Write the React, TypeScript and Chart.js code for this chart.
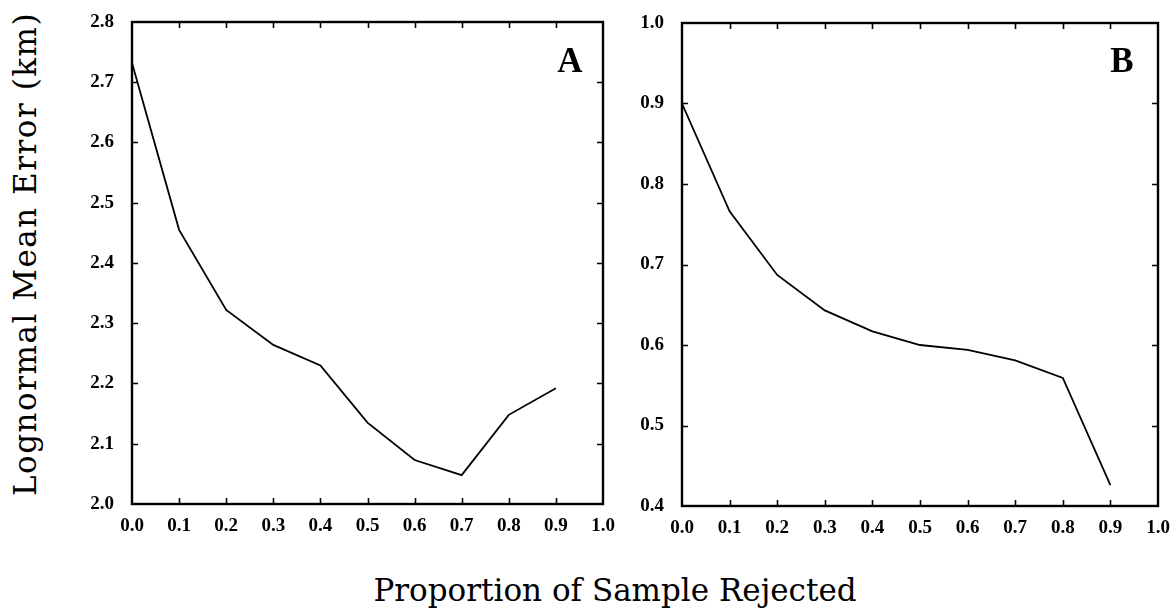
import React, { useEffect, useRef } from "react";
import { Chart, registerables } from "chart.js";

Chart.register(...registerables);

// ---- Data ----
const proportionRejected = [0.0, 0.1, 0.2, 0.3, 0.4, 0.5, 0.6, 0.7, 0.8, 0.9];
const errorA = [2.732, 2.455, 2.322, 2.264, 2.23, 2.135, 2.073, 2.048, 2.148, 2.192];
const errorB = [0.9, 0.766, 0.687, 0.643, 0.617, 0.6, 0.594, 0.581, 0.559, 0.426];

const xTickValues = [0.0, 0.1, 0.2, 0.3, 0.4, 0.5, 0.6, 0.7, 0.8, 0.9, 1.0];
const yTickValuesA = [2.0, 2.1, 2.2, 2.3, 2.4, 2.5, 2.6, 2.7, 2.8];
const yTickValuesB = [0.4, 0.5, 0.6, 0.7, 0.8, 0.9, 1.0];

const xTitle = "Proportion of Sample Rejected";
const yTitle = "Lognormal Mean Error (km)";

const tickFont = { family: "Liberation Serif", size: 19, weight: "bold" as const };

function zeroPadding(scale: any) {
  scale.paddingTop = 0;
  scale.paddingBottom = 0;
  scale.paddingLeft = 0;
  scale.paddingRight = 0;
}

function framePlugin(letter: string, letterDx: number, letterDy: number) {
  return {
    id: "frame" + letter,
    afterDraw(chart: any) {
      const { ctx, chartArea } = chart;
      const { left, right, top, bottom } = chartArea;
      const xs = chart.scales.x;
      const ys = chart.scales.y;
      ctx.save();
      ctx.strokeStyle = "#000";
      ctx.lineWidth = 2.4;
      ctx.strokeRect(left, top, right - left, bottom - top);
      ctx.lineWidth = 1.6;
      const tl = 6;
      ctx.beginPath();
      xs.ticks.forEach((t: any) => {
        if (t.value <= xs.min + 1e-9 || t.value >= xs.max - 1e-9) return;
        const px = Math.round(xs.getPixelForValue(t.value)) + 0.5;
        ctx.moveTo(px, bottom);
        ctx.lineTo(px, bottom - tl);
        ctx.moveTo(px, top);
        ctx.lineTo(px, top + tl);
      });
      ys.ticks.forEach((t: any) => {
        if (t.value <= ys.min + 1e-9 || t.value >= ys.max - 1e-9) return;
        const py = Math.round(ys.getPixelForValue(t.value)) + 0.5;
        ctx.moveTo(left, py);
        ctx.lineTo(left + tl, py);
        ctx.moveTo(right, py);
        ctx.lineTo(right - tl, py);
      });
      ctx.stroke();
      ctx.fillStyle = "#000";
      ctx.font = "bold 35px 'Liberation Serif'";
      ctx.textAlign = "center";
      ctx.textBaseline = "alphabetic";
      ctx.fillText(letter, right - letterDx, top + letterDy);
      ctx.restore();
    },
  };
}

function Panel(props: {
  values: number[];
  yTicks: number[];
  letter: string;
  left: number;
  width: number;
  yWidth: number;
  xHeight: number;
  padTop: number;
  padRight: number;
  letterDx: number;
  letterDy: number;
}) {
  const ref = useRef<HTMLCanvasElement | null>(null);
  useEffect(() => {
    if (!ref.current) return;
    const yMin = props.yTicks[0];
    const yMax = props.yTicks[props.yTicks.length - 1];
    const chart = new Chart(ref.current, {
      type: "line",
      data: {
        datasets: [
          {
            data: proportionRejected.map((x, i) => ({ x, y: props.values[i] })),
            borderColor: "#000",
            borderWidth: 1.8,
            pointRadius: 0,
            tension: 0,
            fill: false,
          },
        ],
      },
      options: {
        animation: false,
        responsive: false,
        devicePixelRatio: 1,
        layout: { padding: { top: props.padTop, right: props.padRight, left: 0, bottom: 0 } },
        plugins: { legend: { display: false }, tooltip: { enabled: false }, title: { display: false } },
        scales: {
          x: {
            type: "linear",
            min: 0,
            max: 1,
            grid: { display: false, drawTicks: false },
            border: { display: false },
            afterBuildTicks: (scale: any) => {
              scale.ticks = xTickValues.map((v) => ({ value: v }));
            },
            afterFit: (scale: any) => {
              scale.height = props.xHeight;
              zeroPadding(scale);
            },
            ticks: {
              color: "#000",
              font: tickFont,
              padding: 11,
              maxRotation: 0,
              autoSkip: false,
              callback: (v: any) => Number(v).toFixed(1),
            },
          },
          y: {
            type: "linear",
            min: yMin,
            max: yMax,
            grid: { display: false, drawTicks: false },
            border: { display: false },
            afterBuildTicks: (scale: any) => {
              scale.ticks = props.yTicks.map((v) => ({ value: v }));
            },
            afterFit: (scale: any) => {
              scale.width = props.yWidth;
              zeroPadding(scale);
            },
            ticks: {
              color: "#000",
              font: tickFont,
              padding: 18,
              autoSkip: false,
              callback: (v: any) => Number(v).toFixed(1),
            },
          },
        },
      },
      plugins: [framePlugin(props.letter, props.letterDx, props.letterDy)],
    } as any);
    return () => chart.destroy();
  }, []);
  return (
    <div style={{ position: "absolute", left: props.left, top: 0, width: props.width, height: 560 }}>
      <canvas ref={ref} width={props.width} height={560} />
    </div>
  );
}

export default function App() {
  return (
    <div
      style={{
        position: "absolute",
        left: 0,
        top: 0,
        width: 1173,
        height: 609,
        background: "#fff",
        overflow: "hidden",
      }}
    >
      <Panel
        values={errorA}
        yTicks={yTickValuesA}
        letter="A"
        left={60}
        width={560}
        yWidth={72}
        xHeight={56}
        padTop={22}
        padRight={17}
        letterDx={33}
        letterDy={50}
      />
      <Panel
        values={errorB}
        yTicks={yTickValuesB}
        letter="B"
        left={620}
        width={553}
        yWidth={62}
        xHeight={54}
        padTop={23}
        padRight={15}
        letterDx={36}
        letterDy={49}
      />
      <div
        style={{
          position: "absolute",
          left: 315,
          top: 575,
          width: 600,
          textAlign: "center",
          fontFamily: "'DejaVu Serif'",
          fontSize: 31,
          lineHeight: "31px",
          color: "#000",
          whiteSpace: "nowrap",
        }}
      >
        {xTitle}
      </div>
      <div
        style={{
          position: "absolute",
          left: -275,
          top: 234,
          width: 600,
          height: 40,
          lineHeight: "40px",
          textAlign: "center",
          fontFamily: "'DejaVu Serif'",
          fontSize: 31,
          letterSpacing: 1.5,
          color: "#000",
          whiteSpace: "nowrap",
          transform: "rotate(-90deg)",
        }}
      >
        {yTitle}
      </div>
    </div>
  );
}
